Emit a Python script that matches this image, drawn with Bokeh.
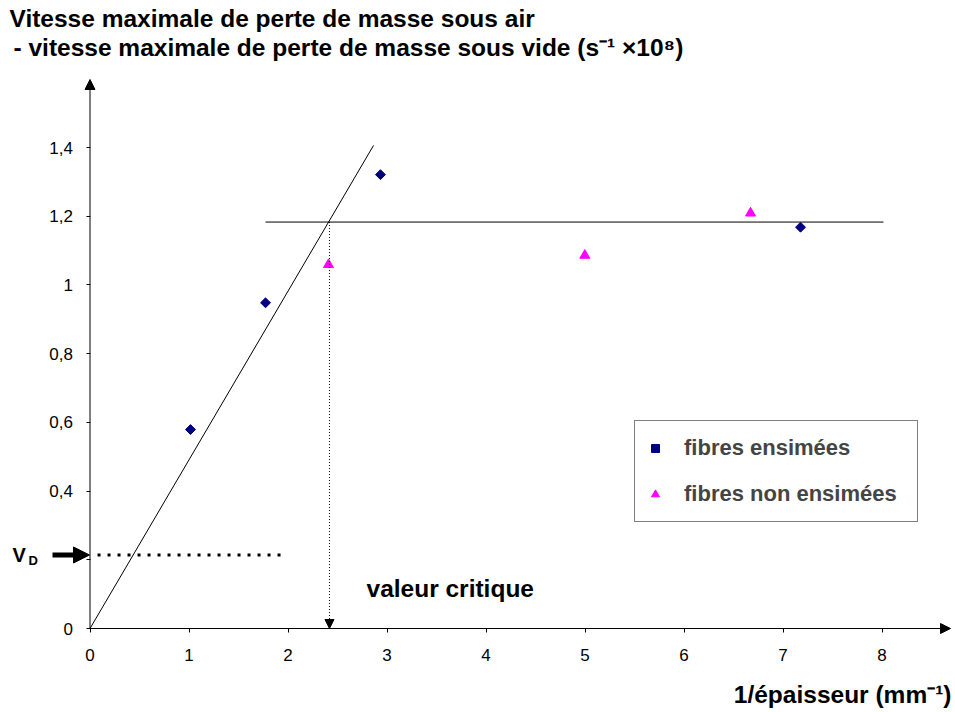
from bokeh.plotting import figure
from bokeh.models import (Range1d, FixedTicker, Label, Arrow, NormalHead,
                          Legend, LegendItem)
from bokeh.embed import file_html
from bokeh.resources import INLINE

# ---- data ----
ens_x = [1.015, 1.773, 2.934, 7.177]
ens_y = [0.579, 0.948, 1.321, 1.168]
non_x = [2.409, 4.998, 6.672]
non_y = [1.059, 1.086, 1.209]

trend_x = [0.0, 2.864]
trend_y = [0.0, 1.406]
plateau_x = [1.773, 8.015]
plateau_y = [1.183, 1.183]
critical_x = 2.419
vd_y = 0.214
vd_x = [0.076, 1.93]

x_ticks = [0, 1, 2, 3, 4, 5, 6, 7, 8]
y_ticks = [0, 0.2, 0.4, 0.6, 0.8, 1, 1.2, 1.4]
y_tick_labels = ["0", "", "0,4", "0,6", "0,8", "1", "1,2", "1,4"]

title_1 = "Vitesse maximale de perte de masse sous air"
title_2 = "- vitesse maximale de perte de masse sous vide (s\u207b\u00b9 \u00d710\u2078)"
x_title = "1/\u00e9paisseur (mm\u207b\u00b9)"
crit_text = "valeur critique"
legend_labels = ["fibres ensim\u00e9es", "fibres non ensim\u00e9es"]

FONT = "Liberation Sans"

# ---- layout calibration (pixels of the canvas) ----
W, H = 955, 710
X0_PX, X_PER = 89.5, 99.0      # x = 0 at 89.5 px, 99 px per unit
Y0_PX, Y_PER = 628.0, 343.57   # y = 0 at 628 px, 343.57 px per unit

def px2x(px):
    return (px - X0_PX) / X_PER

def px2y(py):
    return (Y0_PX - py) / Y_PER

X_TIP = px2x(950)
Y_TIP = px2y(79)

p = figure(width=W, height=H,
           x_range=Range1d(px2x(0), px2x(W)), y_range=Range1d(px2y(H), px2y(0)),
           output_backend="svg", toolbar_location=None, title=None,
           min_border=0, min_border_left=0, min_border_right=0,
           min_border_top=0, min_border_bottom=0)
p.outline_line_color = None
p.xgrid.visible = False
p.ygrid.visible = False
p.background_fill_color = "white"
p.border_fill_color = "white"

p.xaxis.fixed_location = 0
p.yaxis.fixed_location = 0
for ax in (p.xaxis[0], p.yaxis[0]):
    ax.axis_line_color = None
    ax.major_tick_line_color = "black"
    ax.major_tick_out = 4
    ax.major_tick_in = 0
    ax.minor_tick_line_color = None
    ax.major_label_text_font = FONT
    ax.major_label_text_font_size = "17px"
    ax.major_label_text_color = "black"

p.xaxis.ticker = FixedTicker(ticks=x_ticks)
p.yaxis.ticker = FixedTicker(ticks=y_ticks)
p.yaxis.major_label_overrides = {t: s for t, s in zip(y_ticks, y_tick_labels)}
p.xaxis.major_label_standoff = 16
p.yaxis.major_label_standoff = 13

# axes with arrow heads
p.add_layout(Arrow(x_start=0, y_start=0, x_end=X_TIP, y_end=0, line_color="black", line_width=1,
                   end=NormalHead(size=10, fill_color="black", line_color="black")))
p.add_layout(Arrow(x_start=0, y_start=0, x_end=0, y_end=Y_TIP, line_color="black", line_width=1,
                   end=NormalHead(size=10, fill_color="black", line_color="black")))

# trend lines
p.line(trend_x, trend_y, line_color="black", line_width=1)
p.line(plateau_x, plateau_y, line_color="black", line_width=1)

# critical value dotted arrow
p.add_layout(Arrow(x_start=critical_x, y_start=plateau_y[0], x_end=critical_x, y_end=0,
                   line_color="black", line_width=1, line_dash="1 2",
                   end=NormalHead(size=9, fill_color="black", line_color="black")))

# V_D dotted line
p.line(vd_x, [vd_y, vd_y], line_color="black", line_width=3, line_dash="3 7")

# V_D arrow
p.add_layout(Arrow(x_start=px2x(52), y_start=vd_y, x_end=px2x(89), y_end=vd_y,
                   line_color="black", line_width=5,
                   end=NormalHead(size=16, fill_color="black", line_color="black")))

# data points
r_ens = p.scatter(ens_x, ens_y, marker="square", size=7, angle=0.785,
                  fill_color="#000080", line_color="#000080")
r_non = p.scatter(non_x, non_y, marker="triangle", size=10,
                  fill_color="#FF00FF", line_color="#FF00FF")

legend = Legend(items=[LegendItem(label=legend_labels[0], renderers=[r_ens]),
                       LegendItem(label=legend_labels[1], renderers=[r_non])],
                location=(634, H - 522))
legend.border_line_color = "black"
legend.border_line_width = 1
legend.background_fill_color = "white"
legend.background_fill_alpha = 1
legend.label_text_font = FONT
legend.label_text_font_style = "bold"
legend.label_text_font_size = "22px"
legend.padding = 10
legend.margin = 0
legend.glyph_width = 20
legend.glyph_height = 34
legend.label_height = 34
legend.spacing = 12
legend.label_standoff = 19
legend.label_width = 223
p.add_layout(legend)

def lbl(xpx, ypx, text, size, bold=True, align="left", baseline="alphabetic"):
    p.add_layout(Label(x=px2x(xpx), y=px2y(ypx), text=text, text_font=FONT, text_font_size=size,
                       text_font_style="bold" if bold else "normal", text_color="black",
                       text_align=align, text_baseline=baseline))

lbl(9, 18, title_1, "24.5px")
lbl(13, 47, title_2, "24.5px")
lbl(951, 694, x_title, "24.5px", align="right")
lbl(366, 588, crit_text, "24.5px")
lbl(12, 554, "V", "20px")
lbl(28, 560, "D", "13px")

open("out.html", "w").write(file_html(p, INLINE))
